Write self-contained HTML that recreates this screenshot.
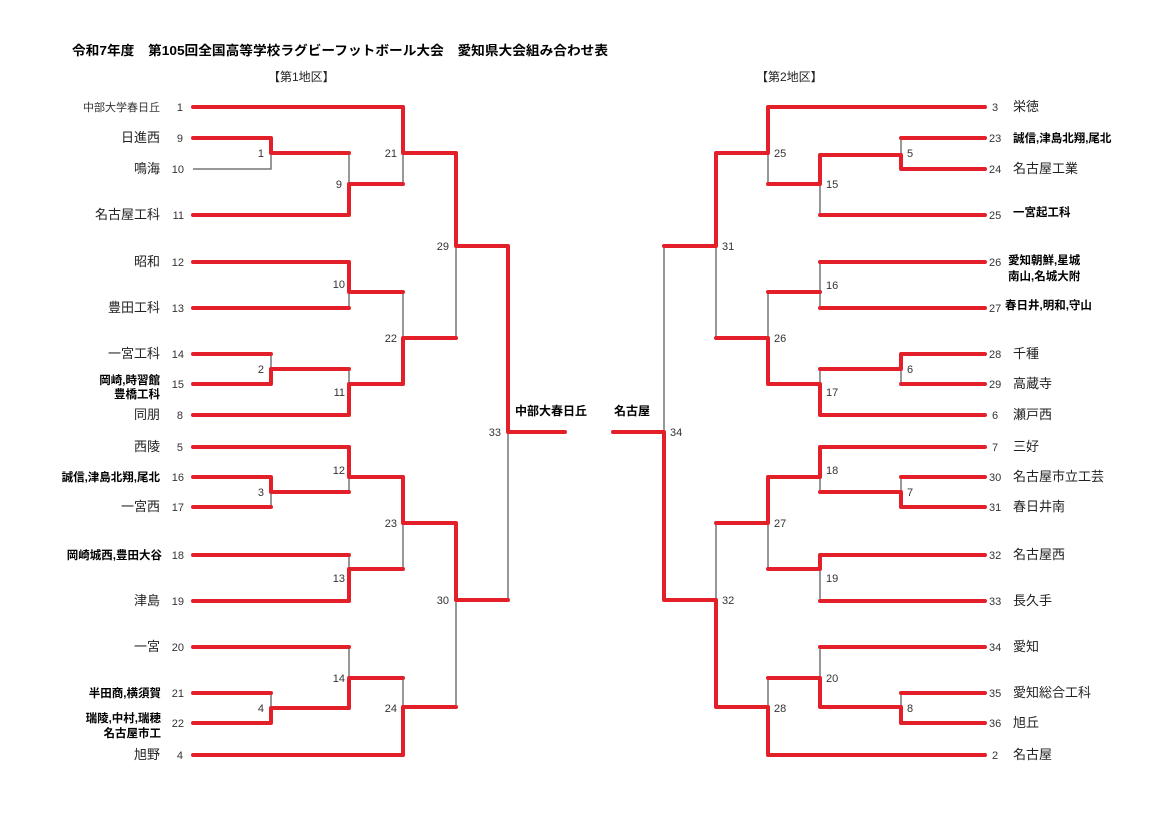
<!DOCTYPE html>
<html><head><meta charset="utf-8"><style>
html,body{margin:0;padding:0;background:#fff}
svg{display:block}
text{font-family:"Liberation Sans","Noto Sans CJK JP",sans-serif}
.n{font-size:11px;fill:#333}
.t{font-size:13px;fill:#222}
.b{font-size:11.5px;font-weight:bold;fill:#000}
.m{font-size:11px;fill:#333}
</style></head><body>
<svg width="1158" height="816" viewBox="0 0 1158 816" xmlns="http://www.w3.org/2000/svg">
<rect width="1158" height="816" fill="#fff"/>
<text x="72" y="55" font-size="13" font-weight="bold" fill="#000" textLength="536" lengthAdjust="spacingAndGlyphs">令和7年度　第105回全国高等学校ラグビーフットボール大会　愛知県大会組み合わせ表</text>
<text x="268" y="81" font-size="12" fill="#222">【第1地区】</text>
<text x="756" y="81" font-size="12" fill="#222">【第2地区】</text>

<g stroke="#777" stroke-width="1.5" fill="none">
<path d="M193 169H271V138M349 153V184M403 153V184M456 246V338M349 292V308M271 354V369M349 369V384M403 292V338M508 432V600M349 477V492M271 492V507M349 555V569M403 523V569M456 600V707M349 647V678M271 693V708M403 678V707"/>
<path d="M901 138V155M820 184V215M768 153V184M716 246V338M820 262V308M768 292V338M901 369V384M820 369V384M664 246V432M716 523V600M820 477V492M901 477V492M768 523V569M820 569V601M768 678V707M820 647V678M901 693V707"/>
</g>
<g stroke="#e3202a" stroke-width="4" fill="none" stroke-linejoin="round" stroke-linecap="round">
<path d="M193 107H403V153H456V246H508V432H565"/>
<path d="M193 138H271V153H349"/>
<path d="M193 215H349V184H403"/>
<path d="M193 262H349V292H403"/>
<path d="M193 308H349"/>
<path d="M193 354H271"/>
<path d="M193 384H271V369H349"/>
<path d="M193 415H349V384H403V338H456"/>
<path d="M193 447H349V477H403V523H456V600H508"/>
<path d="M193 477H271V492H349"/>
<path d="M193 507H271"/>
<path d="M193 555H349"/>
<path d="M193 601H349V569H403"/>
<path d="M193 647H349"/>
<path d="M193 723H271V708H349V678H403"/>
<path d="M193 693H271"/>
<path d="M193 755H403V707H456"/>

<path d="M985 107H768V153H716V246H664"/>
<path d="M985 138H901"/>
<path d="M985 169H901V155H820V184H768"/>
<path d="M985 215H820"/>
<path d="M985 262H820"/>
<path d="M985 308H820"/>
<path d="M820 292H768"/>
<path d="M716 338H768V384H820V415H985"/>
<path d="M985 354H901V369H820"/>
<path d="M985 384H901"/>
<path d="M613 432H664V600H716V707H768V755H985"/>
<path d="M985 447H820V477H768V523H716"/>
<path d="M985 477H901"/>
<path d="M985 507H901V492H820"/>
<path d="M985 555H820V569H768"/>
<path d="M985 601H820"/>
<path d="M985 647H820"/>
<path d="M768 678H820V707H901V723H985"/>
<path d="M985 693H901"/>
</g>

<g class="n" text-anchor="end">
<text x="183" y="111">1</text><text x="183" y="142">9</text><text x="184" y="173">10</text><text x="184" y="219">11</text>
<text x="184" y="266">12</text><text x="184" y="312">13</text><text x="184" y="358">14</text><text x="184" y="388">15</text>
<text x="183" y="419">8</text><text x="183" y="451">5</text><text x="184" y="481">16</text><text x="184" y="511">17</text>
<text x="184" y="559">18</text><text x="184" y="605">19</text><text x="184" y="651">20</text><text x="184" y="697">21</text>
<text x="184" y="727">22</text><text x="183" y="759">4</text>
</g>
<g text-anchor="end">
<text class="n" x="160" y="111">中部大学春日丘</text>
<text class="t" x="160" y="142">日進西</text>
<text class="t" x="160" y="173">鳴海</text>
<text class="t" x="160" y="219">名古屋工科</text>
<text class="t" x="160" y="266">昭和</text>
<text class="t" x="160" y="312">豊田工科</text>
<text class="t" x="160" y="358">一宮工科</text>
<text class="b" x="160" y="384">岡崎,時習館</text>
<text class="b" x="160" y="398">豊橋工科</text>
<text class="t" x="160" y="419">同朋</text>
<text class="t" x="160" y="451">西陵</text>
<text class="b" x="160" y="481">誠信,津島北翔,尾北</text>
<text class="t" x="160" y="511">一宮西</text>
<text class="b" x="162" y="559">岡崎城西,豊田大谷</text>
<text class="t" x="160" y="605">津島</text>
<text class="t" x="160" y="651">一宮</text>
<text class="b" x="161" y="697">半田商,横須賀</text>
<text class="b" x="161" y="722">瑞陵,中村,瑞穂</text>
<text class="b" x="161" y="737">名古屋市工</text>
<text class="t" x="160" y="759">旭野</text>
</g>

<g class="n">
<text x="992" y="111">3</text><text x="989" y="142">23</text><text x="989" y="173">24</text><text x="989" y="219">25</text>
<text x="989" y="266">26</text><text x="989" y="312">27</text><text x="989" y="358">28</text><text x="989" y="388">29</text>
<text x="992" y="419">6</text><text x="992" y="451">7</text><text x="989" y="481">30</text><text x="989" y="511">31</text>
<text x="989" y="559">32</text><text x="989" y="605">33</text><text x="989" y="651">34</text><text x="989" y="697">35</text>
<text x="989" y="727">36</text><text x="992" y="759">2</text>
</g>
<g>
<text class="t" x="1013" y="111">栄徳</text>
<text class="b" x="1013" y="142">誠信,津島北翔,尾北</text>
<text class="t" x="1013" y="173">名古屋工業</text>
<text class="b" x="1013" y="216">一宮起工科</text>
<text class="b" x="1008" y="264">愛知朝鮮,星城</text>
<text class="b" x="1008" y="280">南山,名城大附</text>
<text class="b" x="1005" y="309">春日井,明和,守山</text>
<text class="t" x="1013" y="358">千種</text>
<text class="t" x="1013" y="388">高蔵寺</text>
<text class="t" x="1013" y="419">瀬戸西</text>
<text class="t" x="1013" y="451">三好</text>
<text class="t" x="1013" y="481">名古屋市立工芸</text>
<text class="t" x="1013" y="511">春日井南</text>
<text class="t" x="1013" y="559">名古屋西</text>
<text class="t" x="1013" y="605">長久手</text>
<text class="t" x="1013" y="651">愛知</text>
<text class="t" x="1013" y="697">愛知総合工科</text>
<text class="t" x="1013" y="727">旭丘</text>
<text class="t" x="1013" y="759">名古屋</text>
</g>

<g class="m" text-anchor="end">
<text x="264" y="157">1</text><text x="342" y="188">9</text><text x="397" y="157">21</text><text x="449" y="250">29</text>
<text x="345" y="288">10</text><text x="264" y="373">2</text><text x="345" y="396">11</text><text x="397" y="342">22</text>
<text x="501" y="436">33</text><text x="345" y="474">12</text><text x="264" y="496">3</text><text x="345" y="582">13</text>
<text x="397" y="527">23</text><text x="449" y="604">30</text><text x="345" y="682">14</text><text x="264" y="712">4</text><text x="397" y="712">24</text>
</g>
<g class="m">
<text x="907" y="157">5</text><text x="826" y="188">15</text><text x="774" y="157">25</text><text x="722" y="250">31</text>
<text x="826" y="289">16</text><text x="774" y="342">26</text><text x="907" y="373">6</text><text x="826" y="396">17</text>
<text x="670" y="436">34</text><text x="826" y="474">18</text><text x="907" y="496">7</text><text x="774" y="527">27</text>
<text x="826" y="582">19</text><text x="722" y="604">32</text><text x="826" y="682">20</text><text x="907" y="712">8</text><text x="774" y="712">28</text>
</g>

<text x="515" y="415" font-size="12" font-weight="bold" fill="#000">中部大春日丘</text>
<text x="614" y="415" font-size="12" font-weight="bold" fill="#000">名古屋</text>
</svg>
</body></html>
